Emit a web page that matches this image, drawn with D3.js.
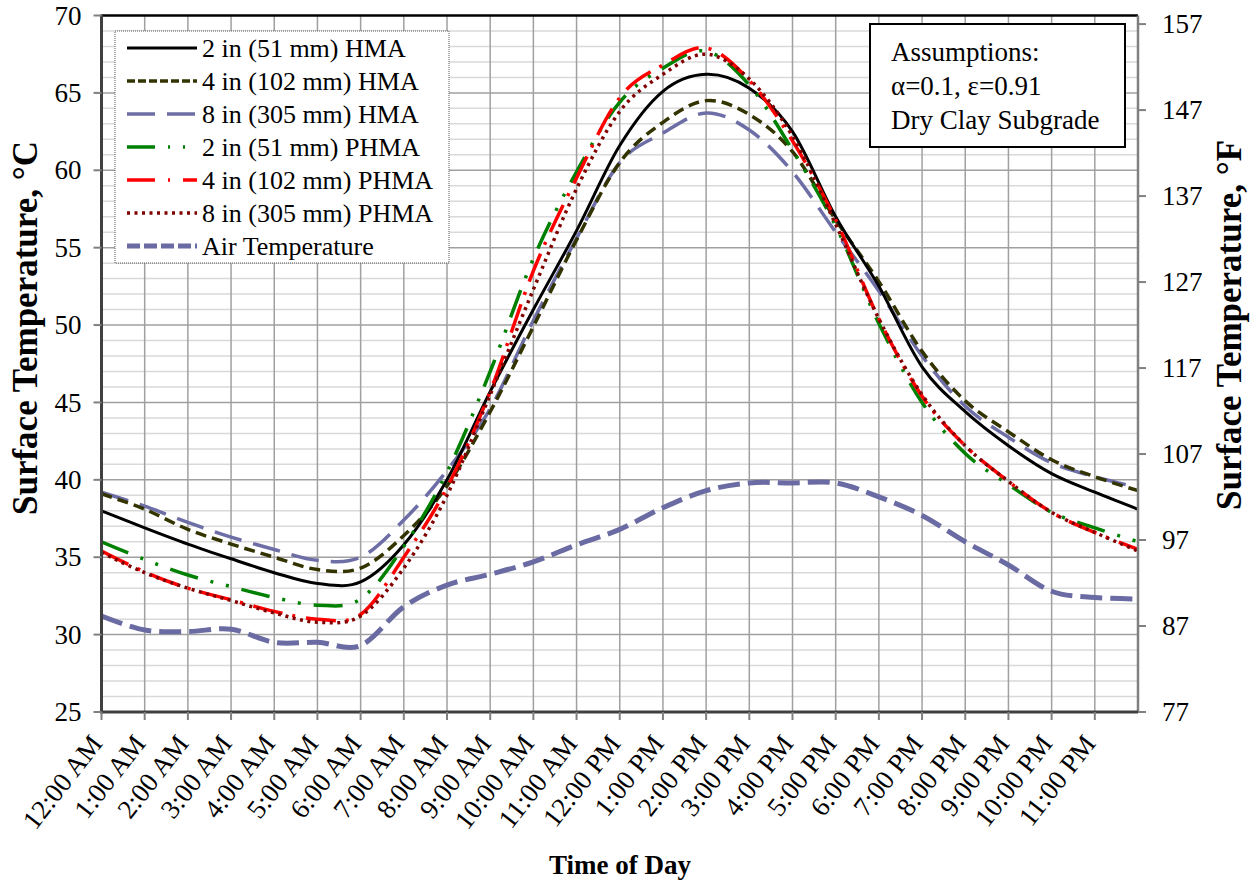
<!DOCTYPE html>
<html><head><meta charset="utf-8">
<script src="https://cdn.jsdelivr.net/npm/d3@7"></script>
<style>
body{margin:0;background:#fff}
svg{display:block}
</style>
</head><body>
<svg id="chart" width="1250" height="881"></svg>
<script>
// ---------------- DATA ----------------
const hours = d3.range(0, 25);
const tickHours = d3.range(0, 24);
const hourLabels = ["12:00 AM","1:00 AM","2:00 AM","3:00 AM","4:00 AM","5:00 AM","6:00 AM","7:00 AM","8:00 AM","9:00 AM","10:00 AM","11:00 AM",
  "12:00 PM","1:00 PM","2:00 PM","3:00 PM","4:00 PM","5:00 PM","6:00 PM","7:00 PM","8:00 PM","9:00 PM","10:00 PM","11:00 PM"];
const celsiusTicks = [25,30,35,40,45,50,55,60,65,70];
const fahrenheitTicks = [77,87,97,107,117,127,137,147,157];

const hma2in  = [38.0,36.9,35.85,34.9,34.0,33.3,33.4,35.8,40.0,45.7,51.0,56.1,61.6,65.1,66.2,65.3,62.5,57.0,52.5,47.3,44.4,42.2,40.4,39.2,38.1];
const hma4in  = [39.1,38.1,36.8,35.85,35.0,34.2,34.3,36.4,39.6,44.4,49.9,55.5,60.5,63.1,64.5,63.6,61.2,56.8,52.8,48.3,45.1,43.1,41.3,40.2,39.3];
const hma8in  = [39.2,38.3,37.25,36.3,35.5,34.8,35.0,37.4,40.6,44.6,50.3,55.6,60.5,62.4,63.7,62.6,59.9,56.0,52.2,48.0,44.75,42.75,41.1,40.2,39.5];
const phma2in = [36.0,34.85,33.85,33.1,32.4,31.9,32.3,35.7,40.5,47.0,54.3,59.9,64.4,66.6,67.7,65.5,61.3,56.4,50.1,45.0,41.7,39.7,37.9,36.9,36.0];
const phma4in = [35.4,34.05,33.0,32.25,31.5,31.0,31.3,35.0,39.5,45.7,53.5,59.5,64.7,66.8,67.9,65.8,61.9,56.8,50.4,45.4,42.2,39.9,37.9,36.6,35.5];
const phma8in = [35.3,34.0,33.0,32.2,31.4,30.8,31.2,34.3,39.0,45.5,52.3,58.8,63.8,66.2,67.5,65.9,62.2,56.5,50.4,45.5,42.2,39.9,37.9,36.6,35.4];
const airTemp = [31.2,30.3,30.2,30.35,29.5,29.5,29.3,31.8,33.2,33.9,34.7,35.8,36.8,38.2,39.3,39.8,39.8,39.8,38.9,37.7,36.0,34.5,32.8,32.4,32.3];

const seriesNames = ["2 in (51 mm) HMA","4 in (102 mm) HMA","8 in (305 mm) HMA","2 in (51 mm) PHMA","4 in (102 mm) PHMA","8 in (305 mm) PHMA","Air Temperature"];
const seriesValues = [hma2in, hma4in, hma8in, phma2in, phma4in, phma8in, airTemp];

// ---------------- STYLES ----------------
const FONT = "'Liberation Serif', 'Times New Roman', Times, 'DejaVu Serif', serif";
const styles = [
  {color:"#000000", width:3,   dash:null,               legendDash:null},
  {color:"#333300", width:3.5, dash:"11,6",             legendDash:"8,3"},
  {color:"#6E6EA6", width:3.5, dash:"28,12",            legendDash:"28,12"},
  {color:"#008000", width:3.5, dash:"29,13,3,13,3,13",  legendDash:"28,13,2,13,2,13"},
  {color:"#FF0000", width:3.5, dash:"30,10,3,11",       legendDash:"28,13,2,13"},
  {color:"#800000", width:3.5, dash:"3,4.5",            legendDash:"3,4.5"},
  {color:"#6B6BA3", width:5,   dash:"22,8",             legendDash:"13,4"}
];

// ---------------- LAYOUT ----------------
const svg = d3.select("#chart").style("font-family", FONT);
const L = 101.5, R = 1138, T = 15.5, B = 712;
const x = d3.scaleLinear().domain([0,24]).range([L,R]);
const y = d3.scaleLinear().domain([25,70]).range([B,T]);
const yF = d3.scaleLinear().domain([77,158]).range([B,T]);

function txt(sel){ return sel.append("text").style("font-family", FONT).attr("fill","#000"); }

svg.append("rect").attr("width",1250).attr("height",881).attr("fill","#fff");

// minor horizontal grid (1 °C)
const g = svg.append("g");
g.selectAll(".minor").data(d3.range(26,70).filter(v=>v%5!==0)).enter().append("line")
  .attr("x1",L).attr("x2",R).attr("y1",d=>y(d)).attr("y2",d=>y(d))
  .attr("stroke","#D9D9D9").attr("stroke-width",1.5);
// major horizontal grid
g.selectAll(".major").data(celsiusTicks.filter(v=>v>25&&v<70)).enter().append("line")
  .attr("x1",L).attr("x2",R).attr("y1",d=>y(d)).attr("y2",d=>y(d))
  .attr("stroke","#A0A0A0").attr("stroke-width",1.5);
// vertical grid
g.selectAll(".vg").data(d3.range(1,24)).enter().append("line")
  .attr("x1",d=>x(d)).attr("x2",d=>x(d)).attr("y1",T).attr("y2",B)
  .attr("stroke","#A0A0A0").attr("stroke-width",1.5);

// clip
svg.append("clipPath").attr("id","clip").append("rect")
  .attr("x",L).attr("y",T).attr("width",R-L).attr("height",B-T);

const line = d3.line().x((d,i)=>x(hours[i])).y(d=>y(d)).curve(d3.curveCardinal.tension(0));

const lines = svg.append("g").attr("clip-path","url(#clip)");
const order = [6,2,1,0,3,4,5];
order.forEach(i=>{
  const s = styles[i];
  lines.append("path").datum(seriesValues[i])
    .attr("d",line).attr("fill","none")
    .attr("stroke",s.color).attr("stroke-width",s.width)
    .attr("stroke-dasharray",s.dash);
});

// frame
svg.append("line").attr("x1",L).attr("x2",R).attr("y1",T).attr("y2",T).attr("stroke","#000").attr("stroke-width",2.5);
svg.append("line").attr("x1",R).attr("x2",R).attr("y1",T).attr("y2",B+1).attr("stroke","#808080").attr("stroke-width",2.5);
svg.append("line").attr("x1",L).attr("x2",L).attr("y1",T-1).attr("y2",B+1.5).attr("stroke","#404040").attr("stroke-width",3);
svg.append("line").attr("x1",L-1.5).attr("x2",R).attr("y1",B).attr("y2",B).attr("stroke","#404040").attr("stroke-width",3);

// left axis ticks & labels
celsiusTicks.forEach(v=>{
  svg.append("line").attr("x1",L-8).attr("x2",L).attr("y1",y(v)).attr("y2",y(v)).attr("stroke","#808080").attr("stroke-width",2);
  txt(svg).attr("x",L-20).attr("y",y(v)).attr("dy","0.34em").attr("text-anchor","end")
    .style("font-size","27px").text(v);
});
// right axis ticks & labels
fahrenheitTicks.forEach(v=>{
  svg.append("line").attr("x1",R).attr("x2",R+8).attr("y1",yF(v)).attr("y2",yF(v)).attr("stroke","#808080").attr("stroke-width",2);
  txt(svg).attr("x",R+24).attr("y",yF(v)).attr("dy","0.34em").attr("text-anchor","start")
    .style("font-size","27px").text(v);
});
// bottom ticks & labels
tickHours.forEach((h,i)=>{
  svg.append("line").attr("x1",x(h)).attr("x2",x(h)).attr("y1",B).attr("y2",B+8).attr("stroke","#808080").attr("stroke-width",2);
  txt(svg).attr("transform",`translate(${x(h)+2},${B+32}) rotate(-52)`)
    .attr("text-anchor","end").style("font-size","27px").text(hourLabels[i]);
});

// axis titles
txt(svg).attr("transform",`translate(37,328) rotate(-90)`)
  .attr("text-anchor","middle").style("font-size","35px").style("font-weight","bold").text("Surface Temperature, °C");
txt(svg).attr("transform",`translate(1241,325) rotate(-90)`)
  .attr("text-anchor","middle").style("font-size","35px").style("font-weight","bold").text("Surface Temperature, °F");
txt(svg).attr("x",620).attr("y",874).attr("text-anchor","middle")
  .style("font-size","27px").style("font-weight","bold").text("Time of Day");

// legend
const lg = svg.append("g");
lg.append("rect").attr("x",115).attr("y",31).attr("width",334).attr("height",232)
  .attr("fill","#fff").attr("stroke","#555").attr("stroke-width",1).attr("stroke-dasharray","1,1");
seriesNames.forEach((n,i)=>{
  const yy = 48 + 33*i, s = styles[i];
  lg.append("line").attr("x1",127).attr("x2",197).attr("y1",yy).attr("y2",yy)
    .attr("stroke",s.color).attr("stroke-width",s.width).attr("stroke-dasharray",s.legendDash);
  txt(lg).attr("x",202).attr("y",yy).attr("dy","0.34em").style("font-size","26px").text(n);
});

// annotation box
const ab = svg.append("g");
ab.append("rect").attr("x",870).attr("y",24).attr("width",255).attr("height",123)
  .attr("fill","#fff").attr("stroke","#000").attr("stroke-width",2);
["Assumptions:","α=0.1, ε=0.91","Dry Clay Subgrade"].forEach((t,i)=>{
  txt(ab).attr("x",891).attr("y",61+34*i).style("font-size","27px").text(t);
});
</script>
</body></html>
